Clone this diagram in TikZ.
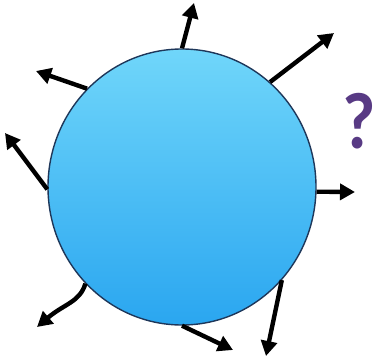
\documentclass[tikz,border=0pt]{standalone}
\usepackage{fontspec}
\setmainfont{Carlito}
\usetikzlibrary{arrows.meta,shapes.geometric}
\definecolor{ballTop}{RGB}{112,214,250}
\definecolor{ballBot}{RGB}{42,166,240}
\definecolor{ballEdge}{RGB}{30,55,90}
\definecolor{qPurple}{RGB}{88,58,132}
\begin{document}
\begin{tikzpicture}[x=1pt,y=-1pt,
  ray/.style={line width=4.4pt,-{Triangle[length=15pt,width=16pt]}},
  ball/.style={ellipse,draw=ballEdge,line width=1.4pt,top color=ballTop,bottom color=ballBot,
    minimum width=268pt,minimum height=276pt,inner sep=0pt}]
\useasboundingbox (0,0) rectangle (375,359);
\node[ball] (b) at (182,187) {};
\coordinate (t1) at (194,3);
\coordinate (t2) at (334,33);
\coordinate (t3) at (36,71);
\coordinate (t4) at (5,133);
\coordinate (t5) at (355,192);
\coordinate (t6) at (37,327);
\coordinate (t7) at (233,350);
\coordinate (t8) at (266,356);
\draw[ray] (b.90) -- (t1);
\draw[ray] (b.50) -- (t2);
\draw[ray] (b.134) -- (t3);
\draw[ray] (b.181) -- (t4);
\draw[ray] (b.-2) -- (t5);
\draw[ray] (b.225) .. controls (80,302) and (64,304) .. (t6);
\draw[ray] (b.270) -- (t7);
\draw[ray] (b.-43) -- (t8);
\node[text=qPurple,font=\bfseries\fontsize{80}{80}\selectfont,xscale=0.9,inner sep=0pt] (q) at (359,121) {?};
\end{tikzpicture}
\end{document}
